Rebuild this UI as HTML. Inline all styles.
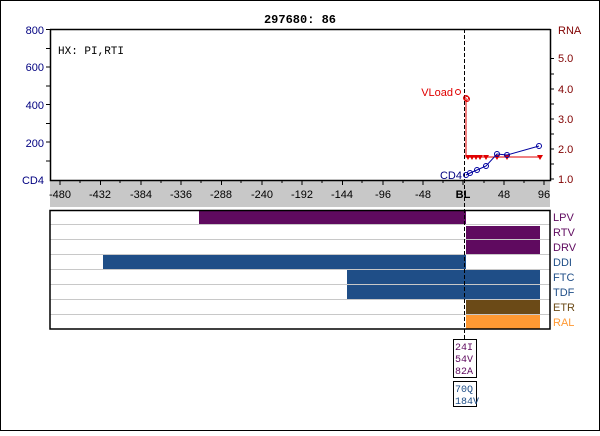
<!DOCTYPE html>
<html><head><style>
body{margin:0;background:#fff}
svg text{font-family:"Liberation Sans",sans-serif;font-size:11px}
.m{font-family:"Liberation Mono",monospace;font-size:10px}
</style></head><body>
<svg width="600" height="431" viewBox="0 0 600 431" xmlns="http://www.w3.org/2000/svg">
<rect x="0.5" y="0.5" width="599" height="430" fill="#fff" stroke="#000"/>
<text x="300" y="23" text-anchor="middle" font-weight="bold" style="font-family:'Liberation Mono',monospace;font-size:12px">297680: 86</text>
<rect x="50" y="181" width="500" height="26" fill="#c8c8c8"/>
<path d="M50.5 29V180.5H550.5V29M50 29.5H550.5" fill="none" stroke="#000" stroke-width="1.5"/>
<text x="58" y="54" class="m" style="font-size:11px">HX: PI,RTI</text>
<g fill="#000080" text-anchor="end">
<text x="44" y="34">800</text><text x="44" y="71">600</text><text x="44" y="109">400</text><text x="44" y="147">200</text><text x="44" y="184">CD4</text>
</g>
<g stroke="#000" stroke-width="1">
<path d="M46 29.5H50M46 48.5H50M46 67H50M46 86H50M46 104.5H50M46 123.5H50M46 142H50M46 161H50"/>
<path d="M550 58.5H554M550 74H554M550 89H554M550 104H554M550 119H554M550 134H554M550 149H554M550 164H554M550 179H554"/>
</g>
<g fill="#800000">
<text x="558" y="34">RNA</text><text x="558" y="62">5.0</text><text x="558" y="93">4.0</text><text x="558" y="123">3.0</text><text x="558" y="153">2.0</text><text x="558" y="183">1.0</text>
</g>
<g stroke="#000">
<path d="M60 181v4M100.5 181v4M141 181v4M181 181v4M221.5 181v4M262 181v4M302 181v4M342.5 181v4M383 181v4M423 181v4M463 181v4M504 181v4M544 181v4M80 181v2M120 181v2M161 181v2M201 181v2M241 181v2M282 181v2M322 181v2M362 181v2M403 181v2M443 181v2M484 181v2M524 181v2"/>
</g>
<g text-anchor="middle" fill="#000">
<text x="60" y="198">-480</text><text x="100" y="198">-432</text><text x="141" y="198">-384</text><text x="181" y="198">-336</text><text x="221" y="198">-288</text><text x="262" y="198">-240</text><text x="302" y="198">-192</text><text x="342" y="198">-144</text><text x="383" y="198">-96</text><text x="423" y="198">-48</text><text x="463" y="198" font-weight="bold">BL</text><text x="504" y="198">48</text><text x="544" y="198">96</text>
</g>
<g stroke="#c8c8c8">
<path d="M50 224.5H550M50 239.5H550M50 254.5H550M50 269.5H550M50 284.5H550M50 299.5H550M50 314.5H550"/>
</g>
<rect x="199" y="211" width="267" height="13" fill="#5f0a5f"/>
<rect x="466" y="226" width="74" height="13" fill="#5f0a5f"/>
<rect x="466" y="240" width="74" height="14" fill="#5f0a5f"/>
<rect x="103" y="255" width="363" height="14" fill="#1f4e87"/>
<rect x="347" y="270" width="193" height="14" fill="#1f4e87"/>
<rect x="347" y="285" width="193" height="14" fill="#1f4e87"/>
<rect x="466" y="300" width="74" height="14" fill="#6b4a17"/>
<rect x="466" y="315" width="74" height="14" fill="#ff9933"/>
<rect x="50" y="210.5" width="500" height="118.5" fill="none" stroke="#000" stroke-width="1.5"/>
<g>
<text x="553" y="221" fill="#5f0a5f">LPV</text>
<text x="553" y="236" fill="#5f0a5f">RTV</text>
<text x="553" y="251" fill="#5f0a5f">DRV</text>
<text x="553" y="266" fill="#1f4e87">DDI</text>
<text x="553" y="281" fill="#1f4e87">FTC</text>
<text x="553" y="296" fill="#1f4e87">TDF</text>
<text x="553" y="311" fill="#6b4a17">ETR</text>
<text x="553" y="326" fill="#ff9933">RAL</text>
</g>
<path d="M464.5 29V339" stroke="#000" stroke-dasharray="4,2"/>
<rect x="453.5" y="339.5" width="23" height="38" fill="#fff" stroke="#000"/>
<text x="455" y="350" class="m" fill="#5f0a5f">24I</text>
<text x="455" y="362" class="m" fill="#5f0a5f">54V</text>
<text x="455" y="374" class="m" fill="#5f0a5f">82A</text>
<rect x="453.5" y="381.5" width="23" height="25" fill="#fff" stroke="#000"/>
<text x="455" y="392" class="m" fill="#1f4e87">70Q</text>
<text x="455" y="404" class="m" fill="#1f4e87">184V</text>
<g stroke="#e00000" fill="none">
<path d="M466 98V157H540"/>
<circle cx="458" cy="92" r="2.5"/><circle cx="466" cy="98" r="2.5"/><circle cx="467" cy="99" r="2.5"/>
</g>
<g fill="#e00000">
<path d="M465 155h6l-3 5zM469 155h6l-3 5zM473 155h6l-3 5zM477 155h6l-3 5zM483 155h6l-3 5zM494 155h6l-3 5zM504 155h6l-3 5zM537 155h6l-3 5z"/>
</g>
<text x="453" y="96" text-anchor="end" fill="#e00000">VLoad</text>
<g stroke="#0000a0" fill="none">
<path d="M466 175L470 173L477 170L486 166L497 154L507 155L539 146"/>
<circle cx="466" cy="175" r="2.5"/><circle cx="470" cy="173" r="2.5"/><circle cx="477" cy="170" r="2.5"/><circle cx="486" cy="166" r="2.5"/><circle cx="497" cy="154" r="2.5"/><circle cx="507" cy="155" r="2.5"/><circle cx="539" cy="146" r="2.5"/>
</g>
<text x="462" y="179" text-anchor="end" fill="#000080">CD4</text>
</svg>
</body></html>
